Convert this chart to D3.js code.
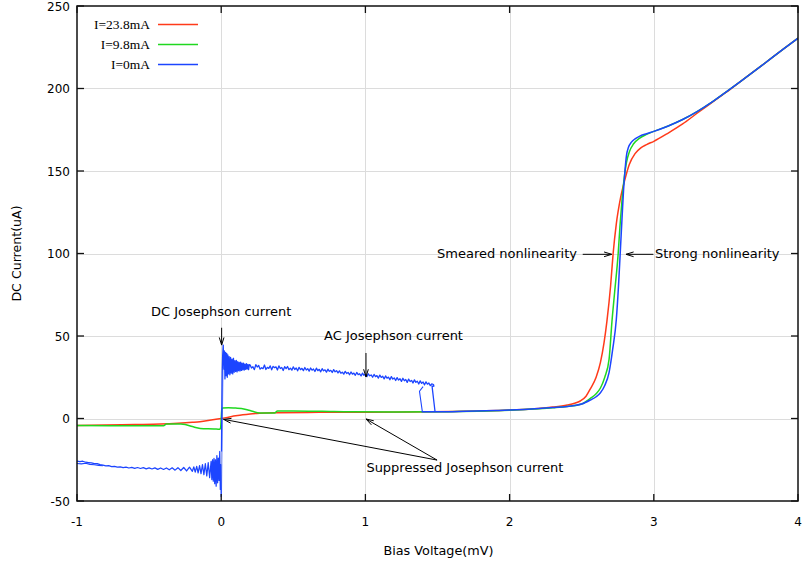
<!DOCTYPE html>
<html><head><meta charset="utf-8">
<script src="https://cdn.jsdelivr.net/npm/d3@7"></script>
<style>body{margin:0;background:#fff;} svg{display:block;}</style>
</head><body>
<svg id="chart" width="803" height="566"></svg>
<script>
// ---------------- DATA ----------------
const xTicks = [-1, 0, 1, 2, 3, 4];
const yTicks = [-50, 0, 50, 100, 150, 200, 250];
const xTitle = "Bias Voltage(mV)";
const yTitle = "DC Current(uA)";
const seriesNames = ["I=23.8mA", "I=9.8mA", "I=0mA"];

// I = 23.8 mA  [V (mV), I (uA)]
const redIV = [[-1,-4.3],[-0.8,-4.0],[-0.6,-3.7],[-0.42,-3.4],[-0.3,-2.9],[-0.2,-2.3],[-0.147,-1.9],[-0.08,-1.1],[0,0],[0.05,0.8],[0.1,1.6],[0.15,2.3],[0.2,2.8],[0.27,3.2],[0.4,3.5],[0.6,3.7],[0.8,3.8],[1.0,3.8],[1.3,3.9],[1.6,4.2],[2.0,5.1],[2.2,6.0],[2.3,6.9],[2.4,8.2],[2.45,9.2],[2.49,10.6],[2.53,13.5],[2.56,18],[2.6,25],[2.63,34],[2.655,46],[2.675,59],[2.70,80],[2.718,100],[2.74,118],[2.77,134],[2.80,145],[2.83,154],[2.87,160.5],[2.91,164],[2.95,166],[3.0,168],[3.1,173],[3.2,178.5],[3.3,185],[3.4,191.3],[3.5,197.6],[3.6,204.2],[3.75,214],[3.9,224],[4.0,230.5]];

// I = 9.8 mA
const greenIV = [[-1,-4.3],[-0.6,-4.4],[-0.4,-4.4],[-0.38,-3.4],[-0.28,-3.4],[-0.25,-3.7],[-0.2,-4.9],[-0.145,-6.0],[-0.05,-6.3],[-0.01,-6.5],[-0.004,-5.5],[0.0,0],[0.004,5.5],[0.01,6.3],[0.05,6.5],[0.1,6.3],[0.14,6.1],[0.2,4.8],[0.27,3.3],[0.37,3.4],[0.39,4.6],[0.5,4.6],[0.7,4.4],[0.9,4.1],[1.2,4.0],[1.5,4.1],[2.0,5.0],[2.2,5.9],[2.3,6.5],[2.4,7.3],[2.5,8.8],[2.56,12.2],[2.6,15],[2.63,18.5],[2.66,25],[2.69,36],[2.71,59],[2.73,78],[2.753,100],[2.765,116],[2.78,133],[2.795,146],[2.81,155],[2.83,161.5],[2.86,166.5],[2.9,169.8],[2.95,172.2],[3.0,174],[3.1,177.3],[3.2,181.2],[3.3,186],[3.4,191.6],[3.5,197.8],[3.6,204.2],[3.75,214],[3.9,224],[4.0,230.5]];

// I = 0 mA : negative superconducting side (noisy)
const blueNegBranch = [[-1.00,-25.8],[-0.98,-26.2],[-0.96,-25.9],[-0.94,-26.5],[-0.92,-26.7],[-0.90,-26.9],[-0.88,-27.4],[-0.86,-27.3],[-0.84,-28.0],[-0.82,-28.3],[-0.80,-28.7],[-0.78,-28.6],[-0.76,-29.2],[-0.74,-29.0],[-0.72,-29.5],[-0.70,-29.3],[-0.68,-29.8],[-0.66,-29.5],[-0.64,-30.0],[-0.62,-29.6],[-0.60,-30.2],[-0.58,-29.7],[-0.56,-30.3],[-0.54,-29.8],[-0.52,-30.5],[-0.50,-29.9],[-0.48,-30.6],[-0.46,-29.9],[-0.44,-30.8],[-0.42,-30.0],[-0.40,-30.9],[-0.38,-30.0],[-0.36,-31.1],[-0.34,-29.9],[-0.32,-31.3],[-0.30,-29.8],[-0.28,-31.5],[-0.26,-29.7],[-0.24,-31.8],[-0.22,-29.5],[-0.20,-32.0],[-0.19,-29.3],[-0.18,-32.5],[-0.17,-29.0],[-0.16,-33.0],[-0.15,-28.6],[-0.14,-33.4],[-0.13,-28.0],[-0.12,-34.0],[-0.11,-27.4],[-0.10,-34.8],[-0.09,-26.8],[-0.08,-35.8],[-0.07,-26.0],[-0.065,-37.0],[-0.06,-25.0],[-0.055,-38.0],[-0.05,-24.2],[-0.045,-39.5],[-0.04,-25.0],[-0.035,-41.0],[-0.03,-22.5],[-0.025,-39.0],[-0.02,-24.0],[-0.015,-37.5],[-0.01,-20.0],[-0.006,-43.0],[-0.003,-28.0],[0.000,-47.5]];
const blueNegAlt = [[-1.00,-27.3],[-0.97,-27.5],[-0.94,-27.1],[-0.91,-27.8],[-0.88,-28.0],[-0.85,-28.4],[-0.82,-28.6]];
const blueReturn = [[0.013,30],[0.009,5],[0.005,-25],[0.002,-46]];
// I = 0 mA : positive branch, DC jump then AC Josephson region
const blueSuperBranch = [[0.002,-20],[0.004,5],[0.007,28],[0.010,38],[0.014,44.5],[0.018,30],[0.022,41],[0.026,24],[0.030,40],[0.034,26],[0.038,39.5],[0.042,25],[0.046,38.5],[0.050,27],[0.055,37.5],[0.060,26.5],[0.065,37],[0.070,27.5],[0.075,36],[0.080,27],[0.085,36.5],[0.090,28],[0.095,35],[0.100,28.5],[0.105,35.2],[0.110,28.2],[0.115,34.5],[0.120,29],[0.125,34],[0.130,28.8],[0.135,34.2],[0.140,29.2],[0.145,33.5],[0.150,29.5],[0.155,33.6],[0.160,29.4],[0.165,33],[0.170,29.8],[0.175,33.2],[0.180,30],[0.185,32.8],[0.190,29.6],[0.195,32.6],
[0.20,32.5],[0.21,30.6],[0.22,31.4],[0.23,29.6],[0.24,32.6],[0.25,31.2],[0.26,32.1],[0.27,29.9],[0.28,30.8],[0.29,30.2],[0.30,32.4],[0.31,29.7],[0.32,31.0],[0.33,30.4],[0.34,31.9],[0.35,29.5],[0.36,31.6],[0.37,30.8],[0.38,31.3],[0.39,29.4],[0.40,31.9],[0.41,30.3],[0.42,30.9],[0.43,29.1],[0.44,31.4],[0.45,30.2],[0.46,31.5],[0.47,29.6],[0.48,30.5],[0.49,29.3],[0.50,31.3],[0.51,29.7],[0.52,30.6],[0.53,28.9],[0.54,31.0],[0.55,29.6],[0.56,30.4],[0.57,29.0],[0.58,30.9],[0.59,29.4],[0.60,30.2],[0.61,28.7],[0.62,30.6],[0.63,29.3],[0.64,30.0],[0.65,28.5],[0.66,30.5],[0.67,29.0],[0.68,29.8],[0.69,28.3],[0.70,30.2],[0.71,28.9],[0.72,29.5],[0.73,28.1],[0.74,29.9],[0.75,28.6],[0.76,29.2],[0.77,27.9],[0.78,29.6],[0.79,28.3],[0.80,29.0],[0.81,27.6],[0.82,28.9],[0.83,27.4],[0.84,28.1],[0.85,26.9],[0.86,28.6],[0.87,27.3],[0.88,27.9],[0.89,26.5],[0.90,28.2],[0.91,26.9],[0.92,27.5],[0.93,26.2],[0.94,27.9],[0.95,26.6],[0.96,27.1],[0.97,25.8],[0.98,27.5],[0.99,26.2],[1.00,26.8],[1.01,25.4],[1.02,27.1],[1.03,25.9],[1.04,26.4],[1.05,25.0],[1.06,26.7],[1.07,25.4],[1.08,26.0],[1.09,24.5],[1.10,26.3],[1.11,24.9],[1.12,25.6],[1.13,24.0],[1.14,25.8],[1.15,24.4],[1.16,25.1],[1.17,23.5],[1.18,25.4],[1.19,23.9],[1.20,24.6],[1.21,23.0],[1.22,24.8],[1.23,23.3],[1.24,24.1],[1.25,22.5],[1.26,24.4],[1.27,22.9],[1.28,23.6],[1.29,21.9],[1.30,23.9],[1.31,22.4],[1.32,23.1],[1.33,21.5],[1.34,23.4],[1.35,21.9],[1.36,22.6],[1.37,20.9],[1.38,22.8],[1.39,21.3],[1.40,22.1],[1.41,20.4],[1.42,22.2],[1.43,20.8],[1.44,21.5],[1.45,19.9],[1.46,21.0],[1.472,20.6],[1.475,19.6],[1.466,19.4],[1.462,19.8],[1.483,4.1]];
const blueDrop = [[1.40,19.3],[1.375,16.5],[1.395,4.1]];
// I = 0 mA : quasiparticle branch
const blueQuasiBranch = [[1.39,4.1],[1.5,4.1],[1.7,4.4],[1.9,4.8],[2.0,5.1],[2.1,5.5],[2.2,6.0],[2.3,6.6],[2.4,7.3],[2.45,7.9],[2.5,8.8],[2.56,11.2],[2.6,13.2],[2.63,15.6],[2.66,20],[2.69,28],[2.715,42],[2.74,60],[2.755,80],[2.767,100],[2.78,122],[2.79,138],[2.80,150],[2.81,159],[2.825,164.5],[2.845,167.5],[2.87,169.5],[2.9,171],[2.95,172.6],[3.0,174],[3.1,177.3],[3.2,181.2],[3.3,186],[3.4,191.6],[3.5,197.8],[3.6,204.2],[3.75,214],[3.9,224],[4.0,230.5]];

// annotation texts
const annotationTexts = ["DC Josephson current", "AC Josephson current", "Suppressed Josephson current", "Smeared nonlinearity", "Strong nonlinearity"];

// ---------------- DRAW ----------------
const W = 803, H = 566;
const margin = {left: 77, right: 5, top: 6, bottom: 65};
const svg = d3.select("#chart");
const x = d3.scaleLinear().domain([-1, 4]).range([margin.left, W - margin.right]);
const y = d3.scaleLinear().domain([-50, 250]).range([H - margin.bottom, margin.top]);
const colors = {red: "#ff3a1a", green: "#20d820", blue: "#1c45ff"};
const font = "'DejaVu Sans', Verdana, sans-serif";

svg.append("rect").attr("width", W).attr("height", H).attr("fill", "#fff");

// grid
const grid = svg.append("g").attr("stroke", "#dcdcdc").attr("stroke-width", 1);
grid.selectAll(".gx").data(xTicks.slice(1, -1)).join("line")
  .attr("x1", d => Math.round(x(d)) + 0.5).attr("x2", d => Math.round(x(d)) + 0.5)
  .attr("y1", y(250)).attr("y2", y(-50));
grid.selectAll(".gy").data(yTicks.slice(1, -1)).join("line")
  .attr("y1", d => Math.round(y(d)) + 0.5).attr("y2", d => Math.round(y(d)) + 0.5)
  .attr("x1", x(-1)).attr("x2", x(4));

// clip
svg.append("clipPath").attr("id", "clip").append("rect")
  .attr("x", x(-1)).attr("y", y(250)).attr("width", x(4) - x(-1)).attr("height", y(-50) - y(250));
const plot = svg.append("g").attr("clip-path", "url(#clip)");
const line = d3.line().x(d => x(d[0])).y(d => y(d[1]));
const smooth = d3.line().x(d => x(d[0])).y(d => y(d[1])).curve(d3.curveMonotoneX);
function drawCurve(data, gen, color, w, op) {
  plot.append("path").datum(data).attr("d", gen).attr("fill", "none")
    .attr("stroke", color).attr("stroke-width", w).attr("stroke-linejoin", "round")
    .attr("opacity", op == null ? 1 : op);
}
drawCurve(redIV, smooth, colors.red, 1.5);
drawCurve(greenIV, smooth, colors.green, 1.5);
drawCurve(blueNegAlt, line, colors.blue, 1.1);
drawCurve(blueReturn, line, colors.blue, 1, 0.6);
drawCurve(blueNegBranch, line, colors.blue, 1.25);
drawCurve(blueSuperBranch, line, colors.blue, 1.3);
drawCurve(blueDrop, line, colors.blue, 1.1);
drawCurve(blueQuasiBranch, smooth, colors.blue, 1.5);

// frame
svg.append("rect").attr("x", x(-1)).attr("y", y(250))
  .attr("width", x(4) - x(-1)).attr("height", y(-50) - y(250))
  .attr("fill", "none").attr("stroke", "#111").attr("stroke-width", 1.5);

// ticks (inward, mirrored)
const tk = 7;
const ticks = svg.append("g").attr("stroke", "#111").attr("stroke-width", 1.3);
xTicks.forEach(d => {
  ticks.append("line").attr("x1", x(d)).attr("x2", x(d)).attr("y1", y(-50)).attr("y2", y(-50) - tk);
  ticks.append("line").attr("x1", x(d)).attr("x2", x(d)).attr("y1", y(250)).attr("y2", y(250) + tk);
});
yTicks.forEach(d => {
  ticks.append("line").attr("y1", y(d)).attr("y2", y(d)).attr("x1", x(-1)).attr("x2", x(-1) + tk);
  ticks.append("line").attr("y1", y(d)).attr("y2", y(d)).attr("x1", x(4)).attr("x2", x(4) - tk);
});

// tick labels
svg.append("g").selectAll("text").data(xTicks).join("text")
  .attr("x", d => x(d)).attr("y", 526).attr("text-anchor", "middle")
  .attr("font-family", font).attr("font-size", 12).attr("fill", "#000")
  .text(d => String(d));
svg.append("g").selectAll("text").data(yTicks).join("text")
  .attr("x", x(-1) - 7).attr("y", d => y(d) + 4.5).attr("text-anchor", "end")
  .attr("font-family", font).attr("font-size", 12).attr("fill", "#000")
  .text(d => String(d));

// axis titles
svg.append("text").attr("x", (x(-1) + x(4)) / 2 + 1).attr("y", 555).attr("text-anchor", "middle")
  .attr("font-family", font).attr("font-size", 12.8).text(xTitle);
svg.append("text").attr("transform", `translate(21,${(y(250) + y(-50)) / 2}) rotate(-90)`)
  .attr("text-anchor", "middle").attr("font-family", font).attr("font-size", 12.6).text(yTitle);

// legend
const legendColors = [colors.red, colors.green, colors.blue];
seriesNames.forEach((n, i) => {
  const yy = 24 + i * 20;
  svg.append("text").attr("x", 150).attr("y", yy + 4.5).attr("text-anchor", "end")
    .attr("font-family", "'Liberation Serif', 'Times New Roman', serif").attr("font-size", 13.5).text(n);
  svg.append("line").attr("x1", 158).attr("x2", 198).attr("y1", yy + 0.5).attr("y2", yy + 0.5)
    .attr("stroke", legendColors[i]).attr("stroke-width", 1.3);
});

// annotations
const ann = svg.append("g");
function arrow(x1, y1, x2, y2) {
  const px1 = x(x1), py1 = y(y1), px2 = x(x2), py2 = y(y2);
  ann.append("line").attr("x1", px1).attr("y1", py1).attr("x2", px2).attr("y2", py2)
    .attr("stroke", "#000").attr("stroke-width", 1);
  const a = Math.atan2(py2 - py1, px2 - px1), L = 8, s = 0.3;
  const h1 = [px2 - L * Math.cos(a - s), py2 - L * Math.sin(a - s)];
  const h2 = [px2 - L * Math.cos(a + s), py2 - L * Math.sin(a + s)];
  ann.append("path").attr("d", `M${h1[0]},${h1[1]}L${px2},${py2}L${h2[0]},${h2[1]}`)
    .attr("fill", "none").attr("stroke", "#000").attr("stroke-width", 1);
}
function label(t, vx, vy, anchor) {
  ann.append("text").attr("x", x(vx)).attr("y", y(vy)).attr("text-anchor", anchor)
    .attr("font-family", font).attr("font-size", 13).attr("fill", "#000").text(t);
}
label(annotationTexts[0], 0.0, 62.1, "middle");
arrow(0.003, 55, 0.003, 44.5);
label(annotationTexts[1], 1.195, 47.6, "middle");
arrow(1.004, 39.7, 1.004, 25.2);
label(annotationTexts[2], 1.69, -32.2, "middle");
arrow(1.497, -25.2, 0.016, -0.5);
arrow(1.497, -25.2, 1.004, -0.3);
label(annotationTexts[3], 2.467, 97.3, "end");
arrow(2.507, 99.5, 2.708, 99.5);
label(annotationTexts[4], 3.008, 97.3, "start");
arrow(2.997, 99.5, 2.807, 99.5);
</script>
</body></html>
